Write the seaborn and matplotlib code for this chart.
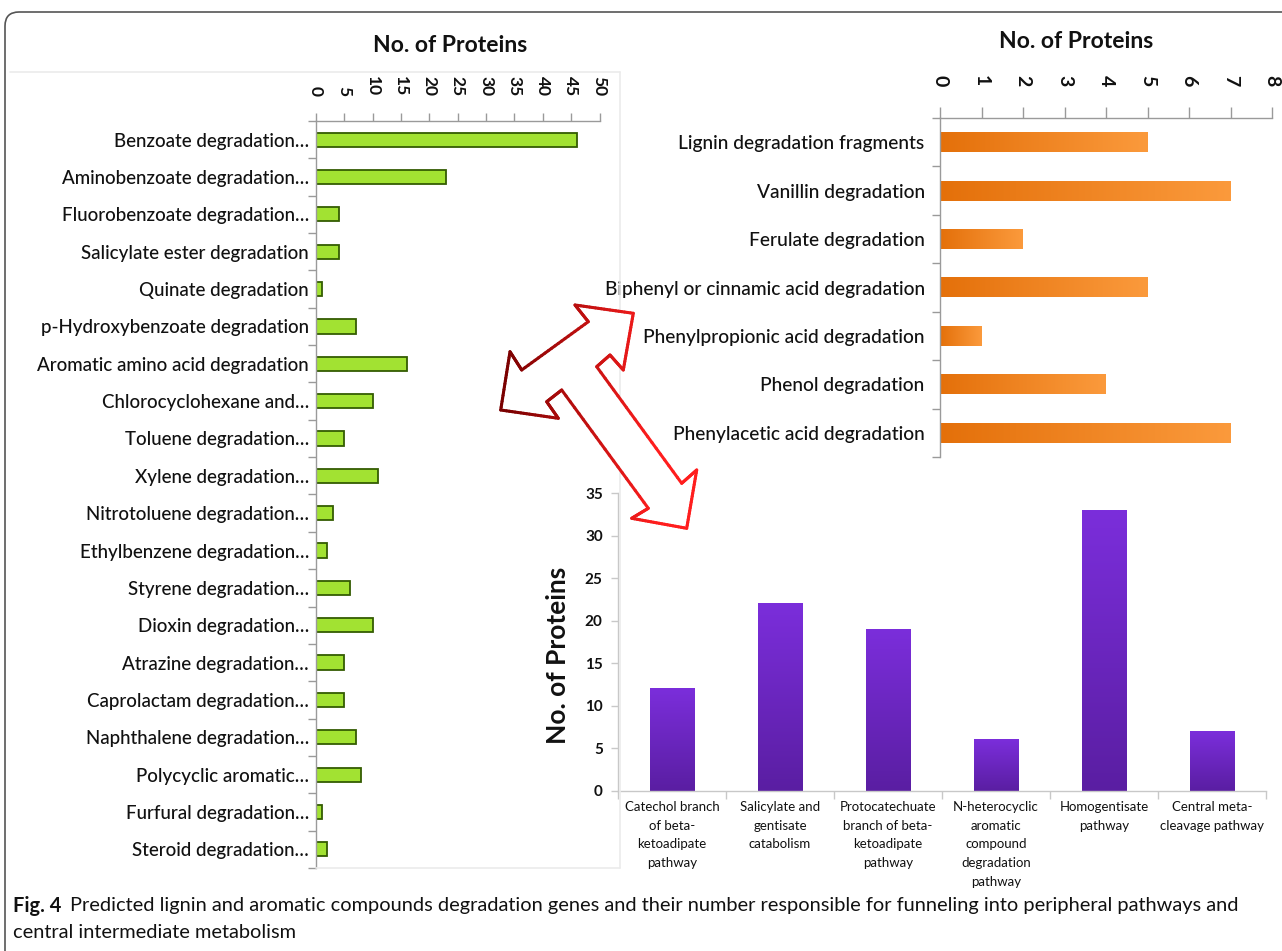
import numpy as np
import pandas as pd
import matplotlib
matplotlib.use("Agg")
import matplotlib.pyplot as plt
import seaborn as sns
from matplotlib.colors import LinearSegmentedColormap
from matplotlib.patches import FancyBboxPatch, Polygon
from matplotlib.collections import LineCollection
from matplotlib.lines import Line2D
from matplotlib.transforms import IdentityTransform

# ---- data -------------------------------------------------------------
peripheral_labels = [
    "Benzoate degradation…", "Aminobenzoate degradation…",
    "Fluorobenzoate degradation…", "Salicylate ester degradation",
    "Quinate degradation", "p-Hydroxybenzoate degradation",
    "Aromatic amino acid degradation", "Chlorocyclohexane and…",
    "Toluene degradation…", "Xylene degradation…",
    "Nitrotoluene degradation…", "Ethylbenzene degradation…",
    "Styrene degradation…", "Dioxin degradation…",
    "Atrazine degradation…", "Caprolactam degradation…",
    "Naphthalene degradation…", "Polycyclic aromatic…",
    "Furfural degradation…", "Steroid degradation…",
]
peripheral_counts = [46, 23, 4, 4, 1, 7, 16, 10, 5, 11, 3, 2, 6, 10, 5, 5, 7, 8, 1, 2]

lignin_labels = [
    "Lignin degradation fragments", "Vanillin degradation",
    "Ferulate degradation", "Biphenyl or cinnamic acid degradation",
    "Phenylpropionic acid degradation", "Phenol degradation",
    "Phenylacetic acid degradation",
]
lignin_counts = [5, 7, 2, 5, 1, 4, 7]

central_labels = [
    "Catechol branch\nof beta-\nketoadipate\npathway",
    "Salicylate and\ngentisate\ncatabolism",
    "Protocatechuate\nbranch of beta-\nketoadipate\npathway",
    "N-heterocyclic\naromatic\ncompound\ndegradation\npathway",
    "Homogentisate\npathway",
    "Central meta-\ncleavage pathway",
]
central_counts = [12, 22, 19, 6, 33, 7]

left_ticks = list(range(0, 51, 5))
right_ticks = list(range(0, 9))
bottom_ticks = list(range(0, 36, 5))

axis_title = "No. of Proteins"
caption_bold = "Fig. 4"
caption_line1 = ("Predicted lignin and aromatic compounds degradation genes and their "
                 "number responsible for funneling into peripheral pathways and")
caption_line2 = "central intermediate metabolism"

# ---- figure -----------------------------------------------------------
W, H = 1282, 951
sns.set_theme(style="white")
plt.rcParams["font.family"] = ["Lato", "DejaVu Sans"]
plt.rcParams["axes.linewidth"] = 1.0

fig = plt.figure(figsize=(W / 100, H / 100), dpi=100)
fig.patch.set_facecolor("white")

ink = "#111111"


def box(x0, y0, x1, y1):
    """Axes rectangle from pixel corners (origin top-left)."""
    return [x0 / W, 1 - y1 / H, (x1 - x0) / W, (y1 - y0) / H]


def fill_gradient(ax, c_start, c_end, horizontal):
    cmap = LinearSegmentedColormap.from_list("bar_grad", [c_start, c_end])
    grad = np.linspace(0, 1, 256)
    img = grad[None, :] if horizontal else grad[:, None]
    for p in list(ax.patches):
        x, y, w, h = p.get_x(), p.get_y(), p.get_width(), p.get_height()
        ax.imshow(img, cmap=cmap, extent=(x, x + w, y, y + h), aspect="auto",
                  origin="lower", zorder=p.get_zorder() + 0.1,
                  interpolation="bilinear")
        p.set_facecolor("none")
        p.set_edgecolor("none")


spine_grey = "#9a9a9a"

# ---- left: peripheral pathways ---------------------------------------
ax1 = fig.add_axes(box(316, 121, 599.5, 868))
df1 = pd.DataFrame({"pathway": peripheral_labels, "proteins": peripheral_counts})
sns.barplot(data=df1, x="proteins", y="pathway", orient="h", color="#A2E232",
            saturation=1, edgecolor="#345C02", linewidth=1.3, width=0.38, ax=ax1)
ax1.set_xlim(0, 50)
ax1.set_ylim(len(peripheral_labels) - 0.5, -0.5)
ax1.xaxis.tick_top()
ax1.set_xticks(left_ticks)
ax1.set_xticklabels([str(t) for t in left_ticks], rotation=-90,
                    fontweight="bold", fontsize=12.5, color=ink)
ax1.set_yticks(range(len(peripheral_labels)))
ax1.set_yticklabels(peripheral_labels, fontsize=13.5, fontweight="medium",
                    color=ink)
ax1.set_yticks(np.arange(-0.5, len(peripheral_labels)), minor=True)
ax1.tick_params(axis="x", top=True, bottom=False, direction="out", length=6,
                width=1, color=spine_grey, pad=12)
ax1.tick_params(axis="y", which="major", left=False, length=0, pad=5)
ax1.tick_params(axis="y", which="minor", left=True, direction="out", length=6,
                width=1, color=spine_grey)
ax1.set_xlabel("")
ax1.set_ylabel("")
for s in ("right", "bottom"):
    ax1.spines[s].set_visible(False)
for s in ("top", "left"):
    ax1.spines[s].set_color(spine_grey)

# ---- top right: lignin-derived compounds ------------------------------
ax2 = fig.add_axes(box(940, 118, 1272, 457))
df2 = pd.DataFrame({"pathway": lignin_labels, "proteins": lignin_counts})
sns.barplot(data=df2, x="proteins", y="pathway", orient="h", color="#F0820F",
            saturation=1, width=0.41, ax=ax2)
fill_gradient(ax2, "#E4700A", "#FB9A3C", horizontal=True)
ax2.set_xlim(0, 8)
ax2.set_ylim(len(lignin_labels) - 0.5, -0.5)
ax2.xaxis.tick_top()
ax2.set_xticks(right_ticks)
ax2.set_xticklabels([str(t) for t in right_ticks], rotation=-90,
                    fontweight="bold", fontsize=14, color=ink)
ax2.set_yticks(range(len(lignin_labels)))
ax2.set_yticklabels(lignin_labels, fontsize=13.8, fontweight="medium",
                    color=ink)
ax2.set_yticks(np.arange(-0.5, len(lignin_labels)), minor=True)
ax2.tick_params(axis="x", top=True, bottom=False, direction="out", length=8,
                width=1, color=spine_grey, pad=15)
ax2.tick_params(axis="y", which="major", left=False, length=0, pad=11)
ax2.tick_params(axis="y", which="minor", left=True, direction="out", length=6,
                width=1, color=spine_grey)
ax2.set_xlabel("")
ax2.set_ylabel("")
for s in ("right", "bottom"):
    ax2.spines[s].set_visible(False)
for s in ("top", "left"):
    ax2.spines[s].set_color(spine_grey)

# ---- bottom: central intermediate pathways ----------------------------
ax3 = fig.add_axes(box(618, 493, 1266, 791))
df3 = pd.DataFrame({"pathway": central_labels, "proteins": central_counts})
sns.barplot(data=df3, x="pathway", y="proteins", color="#6A25C4",
            saturation=1, width=0.41, ax=ax3)
fill_gradient(ax3, "#5A1EA2", "#7B2EDB", horizontal=False)
ax3.set_xlim(-0.5, len(central_labels) - 0.5)
ax3.set_ylim(0, 35)
ax3.set_yticks(bottom_ticks)
ax3.set_yticklabels([str(t) for t in bottom_ticks], fontweight="bold",
                    fontsize=11, color=ink)
ax3.set_xticks(range(len(central_labels)))
ax3.set_xticklabels(central_labels, fontsize=9.5, color=ink,
                    linespacing=1.68)
ax3.set_xticks(np.arange(-0.5, len(central_labels)), minor=True)
ax3.tick_params(axis="x", which="major", bottom=False, length=0, pad=7)
ax3.tick_params(axis="x", which="minor", bottom=True, direction="out",
                length=6, width=1, color="#c8c8c8")
ax3.tick_params(axis="y", left=True, direction="out", length=5, width=1,
                color="#c8c8c8", pad=6)
ax3.set_xlabel("")
ax3.set_ylabel(axis_title, fontsize=19, fontweight="bold", color=ink)
ax3.yaxis.set_label_coords(-0.074, 0.455)
for s in ("right", "top"):
    ax3.spines[s].set_visible(False)
for s in ("left", "bottom"):
    ax3.spines[s].set_color("#c8c8c8")

# ---- axis titles above the horizontal charts --------------------------
fig.text(450 / W, 1 - 45 / H, axis_title, ha="center", va="center",
         fontsize=16.5, fontweight="bold", color=ink)
fig.text(1076 / W, 1 - 42 / H, axis_title, ha="center", va="center",
         fontsize=16.5, fontweight="bold", color=ink)

# ---- faint frame of the left panel ------------------------------------
pix = IdentityTransform()
for (xa, ya), (xb, yb) in [((10, 72), (620, 72)), ((620, 72), (620, 868)),
                           ((316, 868), (620, 868))]:
    fig.add_artist(Line2D([xa, xb], [H - ya, H - yb], transform=pix,
                          color="#ebebeb", lw=1.2))

# ---- branching outline arrow linking the panels -----------------------
arrow_pts = np.array([
    (500.7, 410.0), (510.0, 351.7), (521.7, 370.0), (588.3, 321.7),
    (575.0, 305.0), (633.3, 313.3), (623.3, 370.0), (610.0, 355.0),
    (596.7, 366.7), (681.7, 483.3), (696.7, 470.0), (686.7, 528.3),
    (631.7, 518.3), (648.3, 508.3), (561.7, 390.0), (546.7, 401.7),
    (558.3, 418.3),
])
disp = np.column_stack([arrow_pts[:, 0], H - arrow_pts[:, 1]])
fig.add_artist(Polygon(disp, closed=True, transform=pix, facecolor="white",
                       edgecolor="none", zorder=5))
closed = np.vstack([disp, disp[:1]])
segs, cols = [], []
red_map = LinearSegmentedColormap.from_list("arrow_red", ["#7A0000", "#FF1E1E"])
for a, b in zip(closed[:-1], closed[1:]):
    n = 20
    ts = np.linspace(0, 1, n + 1)
    pts = a[None, :] + (b - a)[None, :] * ts[:, None]
    for p0, p1 in zip(pts[:-1], pts[1:]):
        segs.append([p0, p1])
        mx = 0.5 * (p0[0] + p1[0])
        cols.append(red_map(np.clip((mx - 505) / 150, 0, 1)))
fig.add_artist(LineCollection(segs, colors=cols, linewidths=2.2,
                              transform=pix, zorder=6, capstyle="round",
                              joinstyle="round"))

# ---- outer rounded frame ------------------------------------------------
fig.add_artist(FancyBboxPatch((5, -30), 1400, H - 12 + 30,
                              boxstyle="round,pad=0,rounding_size=14",
                              transform=pix, fill=False, edgecolor="#555555",
                              lw=1.2, zorder=10))

# ---- caption --------------------------------------------------------------
cap_font = ["Lato", "DejaVu Sans"]
fig.canvas.draw()
renderer = fig.canvas.get_renderer()
cap_size = 13.0
tb = fig.text(13 / W, 1 - 906 / H, caption_bold, ha="left", va="center",
              fontsize=cap_size, fontweight="bold", family=cap_font,
              color=ink)
bb = tb.get_window_extent(renderer)
t1 = fig.text((bb.x1 + 9) / W, 1 - 906 / H, caption_line1, ha="left",
              va="center", fontsize=cap_size, family=cap_font, color=ink)
# scale the caption so the first line ends where the line break falls
w1 = t1.get_window_extent(renderer).x1
scale = (1240 - 13) / (w1 - 13)
cap_size *= scale
tb.set_fontsize(cap_size)
bb = tb.get_window_extent(renderer)
t1.set_fontsize(cap_size)
t1.set_x((bb.x1 + 9) / W)
fig.text(13 / W, 1 - 932 / H, caption_line2, ha="left", va="center",
         fontsize=cap_size, family=cap_font, color=ink)

fig.savefig("out.png", dpi=100, facecolor="white")
